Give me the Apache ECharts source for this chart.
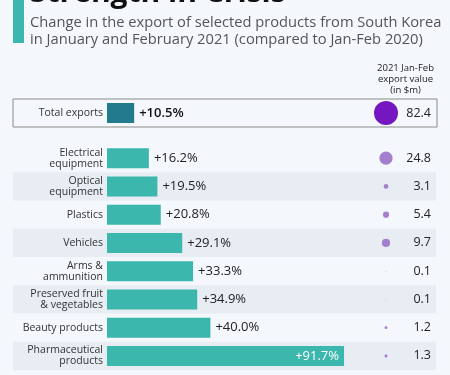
<!DOCTYPE html>
<html>
<head>
<meta charset="utf-8">
<script src="https://cdn.jsdelivr.net/npm/echarts@6/dist/echarts.min.js"></script>
<style>
  html, body { margin: 0; padding: 0; background: #f4f7fb; }
  #chart { width: 450px; height: 375px; }
</style>
</head>
<body>
<div id="chart"></div>
<script>
// data
const products = [
  'Electrical\nequipment', 'Optical\nequipment', 'Plastics', 'Vehicles',
  'Arms &\nammunition', 'Preserved fruit\n& vegetables', 'Beauty products',
  'Pharmaceutical\nproducts'
];
const changePct = [16.2, 19.5, 20.8, 29.1, 33.3, 34.9, 40.0, 91.7];
const exportValue = [24.8, 3.1, 5.4, 9.7, 0.1, 0.1, 1.2, 1.3];
const totalName = ['Total exports'];
const totalChange = [10.5];
const totalValue = [82.4];

const FONT = 'Open Sans';
const TEAL = '#3bb7ae';
const DARK_TEAL = '#227b8c';

// circle area follows the export value, 24px wide for the total
function dotSize(v) {
  return 24 * Math.sqrt(v / totalValue[0]);
}

const chart = echarts.init(document.getElementById('chart'));

const rowTop = 144, rowHeight = 226;
const barLeft = 107, barWidth = 258.5;

const option = {
  backgroundColor: '#f4f7fb',
  animation: false,
  textStyle: { fontFamily: FONT },
  graphic: [
    { type: 'rect', left: 13, top: 0, shape: { width: 11, height: 43 }, style: { fill: TEAL } },
    { type: 'text', left: 30, top: -22,
      style: { text: 'Strength in Crisis', font: 'bold 30px "Open Sans"', fill: '#111' } },
    { type: 'text', left: 30, top: 14,
      style: { text: 'Change in the export of selected products from South Korea\nin January and February 2021 (compared to Jan-Feb 2020)',
        font: '14.7px "Open Sans"', fill: '#555', lineHeight: 17.5 } },
    { type: 'text', x: 405.5, y: 63,
      style: { text: '2021 Jan-Feb\nexport value\n(in $m)', font: '9.5px "Open Sans"', fill: '#222',
        align: 'center', lineHeight: 11 } }
  ],
  grid: [
    // full-width bands behind the product rows
    { left: 13, right: 14, top: rowTop, height: rowHeight },
    // product bars
    { left: barLeft, width: barWidth, top: rowTop, height: rowHeight },
    // product circles
    { left: 374, width: 24, top: rowTop, height: rowHeight },
    // total box
    { left: 13, right: 13, top: 99, height: 28, show: true, borderColor: '#8a8a8a', borderWidth: 1, backgroundColor: 'transparent' },
    // total bar
    { left: barLeft, width: barWidth, top: 99, height: 28 },
    // total circle
    { left: 374, width: 24, top: 99, height: 28 }
  ],
  xAxis: [
    { gridIndex: 0, type: 'value', show: false },
    { gridIndex: 1, type: 'value', min: 0, max: 100, show: false },
    { gridIndex: 2, type: 'category', data: ['v'], show: false },
    { gridIndex: 3, type: 'value', show: false },
    { gridIndex: 4, type: 'value', min: 0, max: 100, show: false },
    { gridIndex: 5, type: 'category', data: ['v'], show: false }
  ],
  yAxis: [
    { gridIndex: 0, type: 'category', data: products, inverse: true,
      axisLine: { show: false }, axisTick: { show: false }, axisLabel: { show: false },
      splitArea: { show: true, areaStyle: { color: ['rgba(0,0,0,0)', '#e8edf4'] } } },
    { gridIndex: 1, type: 'category', data: products, inverse: true,
      axisLine: { show: false }, axisTick: { show: false },
      axisLabel: { margin: 4, fontSize: 10.5, lineHeight: 11, color: '#333', fontFamily: FONT } },
    { gridIndex: 2, type: 'category', data: products, inverse: true, position: 'right',
      axisLine: { show: false }, axisTick: { show: false },
      axisLabel: { margin: 33, align: 'right', fontSize: 12.5, color: '#222', fontFamily: FONT,
        formatter: (v, i) => exportValue[i].toFixed(1) } },
    { gridIndex: 3, type: 'category', data: totalName, show: false },
    { gridIndex: 4, type: 'category', data: totalName,
      axisLine: { show: false }, axisTick: { show: false },
      axisLabel: { margin: 4, fontSize: 10.5, color: '#333', fontFamily: FONT } },
    { gridIndex: 5, type: 'category', data: totalName, position: 'right',
      axisLine: { show: false }, axisTick: { show: false },
      axisLabel: { margin: 33, align: 'right', fontSize: 12.5, color: '#222', fontFamily: FONT,
        formatter: (v, i) => totalValue[i].toFixed(1) } }
  ],
  series: [
    {
      type: 'bar', xAxisIndex: 1, yAxisIndex: 1, barWidth: 20,
      itemStyle: { color: TEAL },
      data: changePct.map((v, i) => {
        const item = { value: v };
        if (i === changePct.length - 1) {
          item.label = { position: 'insideRight', color: '#fff', distance: 5 };
        }
        return item;
      }),
      label: {
        show: true, position: 'right', distance: 5, fontSize: 13, color: '#222', fontFamily: FONT,
        formatter: p => '+' + p.value.toFixed(1) + '%'
      }
    },
    {
      type: 'scatter', xAxisIndex: 2, yAxisIndex: 2,
      itemStyle: { color: '#a47fcd', opacity: 1 },
      data: exportValue.map((v, i) => [0, i, v]),
      symbolSize: d => dotSize(d[2])
    },
    {
      type: 'bar', xAxisIndex: 4, yAxisIndex: 4, barWidth: 20,
      itemStyle: { color: DARK_TEAL },
      data: totalChange,
      label: {
        show: true, position: 'right', distance: 5, fontSize: 13, fontWeight: 600, color: '#111', fontFamily: FONT,
        formatter: p => '+' + p.value.toFixed(1) + '%'
      }
    },
    {
      type: 'scatter', xAxisIndex: 5, yAxisIndex: 5,
      itemStyle: { color: '#7516c0', opacity: 1 },
      data: totalValue.map((v, i) => [0, i, v]),
      symbolSize: d => dotSize(d[2])
    }
  ]
};

chart.setOption(option);
</script>
</body>
</html>
